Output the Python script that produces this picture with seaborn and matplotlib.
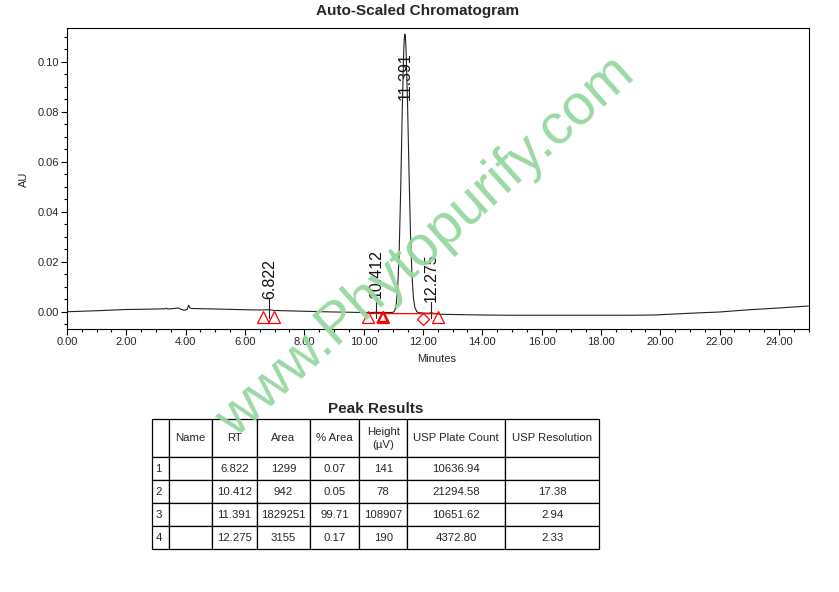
import matplotlib
matplotlib.use("Agg")
import matplotlib.pyplot as plt
import seaborn as sns
import pandas as pd
from matplotlib.ticker import MultipleLocator, FormatStrFormatter
from matplotlib.table import Table

# ---------------- data ----------------
time_min = [0.0, 1.0, 2.0, 2.6, 3.0, 3.3, 3.35, 3.4, 3.6, 3.75, 3.8, 3.95, 4.05, 4.1, 4.15, 4.2,
            5.0, 6.0, 6.5, 6.82, 7.0, 8.0, 9.0, 10.0, 10.3, 10.41, 10.55, 10.8, 10.9, 10.95,
            11.0, 11.05, 11.1, 11.15, 11.2, 11.25, 11.3, 11.35, 11.37, 11.391, 11.41, 11.43,
            11.48, 11.53, 11.58, 11.63, 11.68, 11.73, 11.8, 11.9, 12.0, 12.2, 12.275, 12.35,
            12.6, 13.0, 14.0, 15.0, 16.0, 17.0, 18.0, 19.0, 19.8, 20.5, 21.0, 22.0, 23.0,
            24.0, 25.0]
signal_au = [0.0001, 0.0005, 0.0010, 0.0011, 0.0012, 0.0013, 0.0015, 0.0012, 0.0014, 0.0016,
             0.0013, 0.0007, 0.0010, 0.0027, 0.0016, 0.0014,
             0.0012, 0.0009, 0.0008, 0.0009, 0.0006, 0.0003, 0.0000, -0.0002, -0.0002, -0.0001,
             -0.0002, -0.0002, -0.0002, -0.0002,
             -0.0001, 0.0005, 0.0030, 0.0097, 0.0243, 0.0486, 0.0788, 0.1036, 0.1091, 0.1111,
             0.1097, 0.1053,
             0.0843, 0.0566, 0.0318, 0.0150, 0.0057, 0.0017, 0.0000, -0.0003, -0.0004, -0.0005,
             -0.0003, -0.0005,
             -0.0009, -0.0010, -0.0012, -0.0013, -0.0013, -0.0013, -0.0013, -0.0013, -0.0012,
             -0.0008, -0.0005, 0.0000, 0.0009, 0.0016, 0.0024]

peak_rt = [6.822, 10.412, 11.391, 12.275]
peak_labels = ["6.822", "10.412", "11.391", "12.275"]
peak_label_au = [0.0053, 0.0055, 0.0848, 0.0041]

tri_rt = [6.62, 6.98, 10.16, 10.64, 12.52]
tri_au = [-0.0019, -0.0019, -0.0019, -0.0019, -0.0019]
diamond_rt = [11.99]
diamond_au = [-0.0027]
baseline_rt = [10.16, 12.52]
baseline_au = [-0.0006, -0.0007]

x_ticks = [0, 2, 4, 6, 8, 10, 12, 14, 16, 18, 20, 22, 24]
y_ticks = [0.00, 0.02, 0.04, 0.06, 0.08, 0.10]

tbl_header = ["", "Name", "RT", "Area", "% Area", "Height\n(\u00b5V)", "USP Plate Count", "USP Resolution"]
tbl_idx = ["1", "2", "3", "4"]
tbl_name = ["", "", "", ""]
tbl_rt = ["6.822", "10.412", "11.391", "12.275"]
tbl_area = ["1299", "942", "1829251", "3155"]
tbl_pct = ["0.07", "0.05", "99.71", "0.17"]
tbl_height = ["141", "78", "108907", "190"]
tbl_plate = ["10636.94", "21294.58", "10651.62", "4372.80"]
tbl_res = ["", "17.38", "2.94", "2.33"]

# ---------------- styling ----------------
sns.set_style("ticks")
plt.rcParams["font.family"] = ["Liberation Sans", "DejaVu Sans"]
plt.rcParams["axes.linewidth"] = 0.8

W, H = 839, 592
fig = plt.figure(figsize=(W / 100, H / 100), dpi=100)

ax_l, ax_r, ax_t, ax_b = 67, 808.5, 27.7, 329
ax = fig.add_axes([ax_l / W, 1 - ax_b / H, (ax_r - ax_l) / W, (ax_b - ax_t) / H])

df = pd.DataFrame({"t": time_min, "au": signal_au})
sns.lineplot(data=df, x="t", y="au", ax=ax, color="#222222", linewidth=0.8,
             estimator=None, sort=False, zorder=3)

# integration baseline and markers
sns.lineplot(x=baseline_rt, y=baseline_au, ax=ax, color="red", linewidth=0.9,
             estimator=None, zorder=3.5)
ax.plot(tri_rt, tri_au, linestyle="none", marker="^", markersize=8.5,
        markerfacecolor="none", markeredgecolor="red", markeredgewidth=0.9, zorder=4)
ax.plot([tri_rt[3]], [tri_au[3]], linestyle="none", marker="^", markersize=7.5,
        markerfacecolor="none", markeredgecolor="red", markeredgewidth=1.6, zorder=4)
ax.plot(diamond_rt, diamond_au, linestyle="none", marker="D", markersize=6.5,
        markerfacecolor="none", markeredgecolor="red", markeredgewidth=0.9, zorder=4)

# peak labels with stems
for rt, lab, ly in zip(peak_rt, peak_labels, peak_label_au):
    if ly < 0.02:
        ax.plot([rt, rt], [-0.0025, ly], color="#222222", linewidth=0.8, zorder=3)
    ax.text(rt, ly, lab, rotation=90, ha="center", va="bottom", fontsize=11.5,
            color="#111111", zorder=5)

ax.set_xlim(0, 25)
ax.set_ylim(-0.0068, 0.1137)
ax.set_xticks(x_ticks)
ax.set_yticks(y_ticks)
ax.xaxis.set_minor_locator(MultipleLocator(0.5))
ax.yaxis.set_minor_locator(MultipleLocator(0.005))
ax.xaxis.set_major_formatter(FormatStrFormatter("%.2f"))
ax.yaxis.set_major_formatter(FormatStrFormatter("%.2f"))
ax.tick_params(which="major", length=4.5, width=0.8, labelsize=8, pad=1.5, color="black")
ax.tick_params(which="minor", length=2.5, width=0.8, color="black")
for s in ax.spines.values():
    s.set_visible(True)
    s.set_color("black")
ax.set_xlabel("Minutes", fontsize=8)
ax.set_ylabel("AU", fontsize=8)
ax.xaxis.set_label_coords(0.499, -0.083)
ax.yaxis.set_label_coords(-0.0508, 0.498)

fig.text(418 / W, 1 - 11 / H, "Auto-Scaled Chromatogram", ha="center", va="center",
         fontsize=11, fontweight="bold")

# ---------------- table ----------------
fig.text(376 / W, 1 - 409 / H, "Peak Results", ha="center", va="center",
         fontsize=11, fontweight="bold")
tl, tr_, tt, tb = 152, 599.3, 419, 549.3
ax_tab = fig.add_axes([tl / W, 1 - tb / H, (tr_ - tl) / W, (tb - tt) / H])
ax_tab.axis("off")
col_w = [17.3, 42.4, 45.0, 53.3, 49.3, 48.0, 97.7, 94.3]
row_h = [38.3] + [23.0] * 4
tab = Table(ax_tab, bbox=[0, 0, 1, 1])
columns = [tbl_idx, tbl_name, tbl_rt, tbl_area, tbl_pct, tbl_height, tbl_plate, tbl_res]
for c, head in enumerate(tbl_header):
    tab.add_cell(0, c, width=col_w[c], height=row_h[0], text=head, loc="center")
for r in range(4):
    for c, colvals in enumerate(columns):
        tab.add_cell(r + 1, c, width=col_w[c], height=row_h[r + 1], text=colvals[r],
                     loc="left" if c == 0 else "center")
tab.auto_set_font_size(False)
tab.set_fontsize(8.2)
for (r, c), cell in tab.get_celld().items():
    cell.set_linewidth(0.9)
    cell.set_edgecolor("black")
    cell.PAD = 0.2 if c == 0 else 0.05
    cell.get_text().set_linespacing(1.4)
ax_tab.add_table(tab)

# ---------------- watermark ----------------
fig.text(436 / W, 1 - 258 / H, "www.Phytopurify.com", rotation=42, rotation_mode="anchor",
         ha="center", va="baseline", fontsize=41, color="#96d7a0", zorder=10, alpha=0.95)

fig.savefig("out.png", dpi=100)
